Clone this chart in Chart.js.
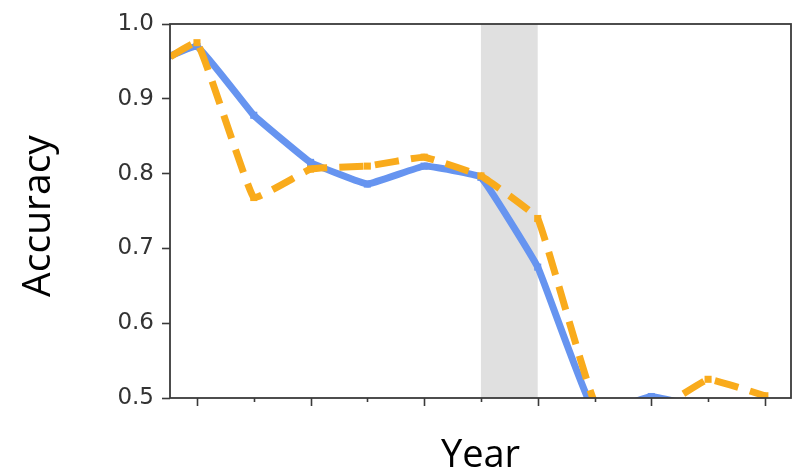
<!DOCTYPE html>
<html>
<head>
<meta charset="utf-8">
<script src="https://cdn.jsdelivr.net/npm/chart.js@4/dist/chart.umd.min.js"></script>
<style>
  html, body { margin: 0; padding: 0; background: #ffffff; }
  #wrap { width: 796px; height: 473px; position: relative; }
</style>
</head>
<body>
<div id="wrap"><canvas id="c" width="796" height="473"></canvas></div>
<script>
// Year positions (index along the axis) and the accuracy of the two models
const yearIndex   = [-1, 0, 1, 2, 3, 4, 5, 6, 7, 8, 9, 10];
const modelA      = [0.94, 0.97, 0.878, 0.815, 0.786, 0.81, 0.795, 0.675, 0.48, 0.502, 0.485, 0.47];
const modelB      = [0.93, 0.975, 0.768, 0.806, 0.81, 0.822, 0.797, 0.74, 0.495, 0.48, 0.525, 0.503];
const yTicks      = [0.5, 0.6, 0.7, 0.8, 0.9, 1.0];
const shadedSpan  = [5, 6];

const toPoints = (vals) => yearIndex.map((x, i) => ({ x: x, y: vals[i] }));

// Shaded year band behind the lines
const bandPlugin = {
  id: 'band',
  beforeDatasetsDraw(chart) {
    const { ctx, chartArea, scales } = chart;
    const x0 = scales.x.getPixelForValue(shadedSpan[0]);
    const x1 = scales.x.getPixelForValue(shadedSpan[1]);
    ctx.save();
    ctx.fillStyle = '#e0e0e0';
    ctx.fillRect(x0, chartArea.top, x1 - x0, chartArea.bottom - chartArea.top);
    ctx.restore();
  }
};

// Frame around the plot, x tick marks (long on even, short on odd) and axis titles
const framePlugin = {
  id: 'frame',
  afterDraw(chart) {
    const { ctx, chartArea: a, scales } = chart;
    ctx.save();
    ctx.strokeStyle = '#3a3a3a';
    ctx.lineWidth = 1.8;
    ctx.strokeRect(a.left, a.top, a.right - a.left, a.bottom - a.top);

    ctx.lineWidth = 1.6;
    for (let v = Math.ceil(scales.x.min); v <= scales.x.max; v++) {
      const px = Math.round(scales.x.getPixelForValue(v)) + 0.5;
      const len = (v % 2 === 0) ? 8 : 4;
      ctx.beginPath();
      ctx.moveTo(px, a.bottom);
      ctx.lineTo(px, a.bottom + len);
      ctx.stroke();
    }

    ctx.fillStyle = '#000000';
    ctx.font = '38px "Open Sans", sans-serif';
    ctx.textAlign = 'center';
    ctx.textBaseline = 'alphabetic';
    ctx.fillText('Year', (a.left + a.right) / 2, 467);

    ctx.save();
    ctx.font = '39px "Open Sans", sans-serif';
    ctx.translate(50, (a.top + a.bottom) / 2 + 5);
    ctx.rotate(-Math.PI / 2);
    ctx.fillText('Accuracy', 0, 0);
    ctx.restore();
    ctx.restore();
  }
};

new Chart(document.getElementById('c'), {
  type: 'line',
  data: {
    datasets: [
      {
        label: 'B',
        data: toPoints(modelB),
        borderColor: '#f9ab1c',
        backgroundColor: '#f9ab1c',
        borderWidth: 7,
        borderDash: [24, 12],
        borderCapStyle: 'butt',
        tension: 0.08,
        pointStyle: 'rect',
        pointRadius: 5,
        pointBorderWidth: 0,
        clip: 0,
        order: 0
      },
      {
        label: 'A',
        data: toPoints(modelA),
        borderColor: '#6694f0',
        backgroundColor: '#6694f0',
        borderWidth: 7,
        tension: 0.08,
        pointStyle: 'rect',
        pointRadius: 5,
        pointBorderWidth: 0,
        clip: 0,
        order: 1
      }
    ]
  },
  options: {
    responsive: false,
    animation: false,
    layout: { padding: { top: 24, right: 5, left: 0, bottom: 0 } },
    plugins: {
      legend: { display: false },
      tooltip: { enabled: false }
    },
    scales: {
      x: {
        type: 'linear',
        min: -0.475,
        max: 10.46,
        grid: { display: false },
        border: { display: false },
        ticks: { display: false },
        afterFit(scale) { scale.height = 75; }
      },
      y: {
        min: 0.5,
        max: 1.0,
        afterBuildTicks(scale) { scale.ticks = yTicks.map(v => ({ value: v })); },
        grid: {
          drawOnChartArea: false,
          tickLength: 8,
          tickWidth: 1.6,
          color: '#3a3a3a'
        },
        border: { display: false },
        ticks: {
          padding: 8,
          color: '#333333',
          font: { family: '"DejaVu Sans", sans-serif', size: 23 },
          callback: (v) => Number(v).toFixed(1)
        },
        afterFit(scale) { scale.width = 170; }
      }
    }
  },
  plugins: [bandPlugin, framePlugin]
});
</script>
</body>
</html>
